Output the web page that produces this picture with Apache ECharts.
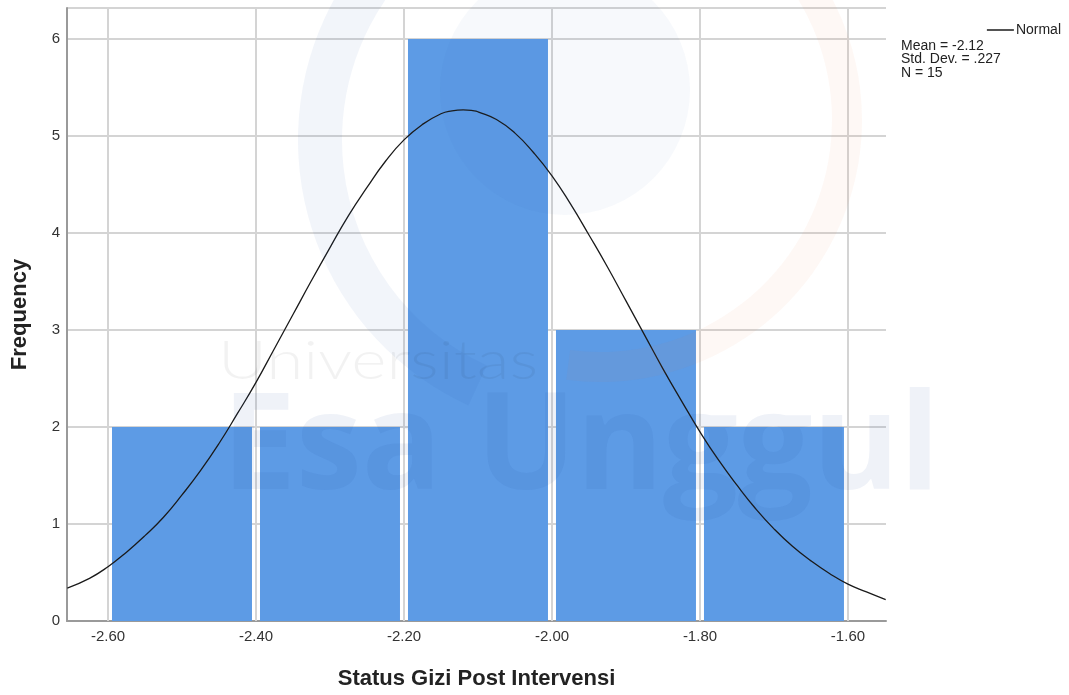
<!DOCTYPE html>
<html>
<head>
<meta charset="utf-8">
<script src="https://cdn.jsdelivr.net/npm/echarts@6/dist/echarts.min.js"></script>
<style>html,body{margin:0;padding:0;background:#fff;}#c{width:1069px;height:695px;}</style>
</head>
<body>
<div id="c"></div>
<script>
// ---- data ----
var binStarts = [-2.6, -2.4, -2.2, -2.0, -1.8];
var binEnds = [-2.4, -2.2, -2.0, -1.8, -1.6];
var counts = [2, 2, 6, 3, 2];
var xTicks = [-2.6, -2.4, -2.2, -2.0, -1.8, -1.6];
var yTicks = [0, 1, 2, 3, 4, 5, 6];
var curveX = [-2.655, -2.625, -2.60, -2.575, -2.55, -2.525, -2.50, -2.475, -2.45, -2.425, -2.40, -2.375, -2.35, -2.325, -2.30, -2.275, -2.25, -2.225, -2.20, -2.175, -2.15, -2.135, -2.12, -2.105, -2.10, -2.075, -2.05, -2.025, -2.00, -1.975, -1.95, -1.925, -1.90, -1.875, -1.85, -1.825, -1.80, -1.775, -1.75, -1.725, -1.70, -1.675, -1.65, -1.625, -1.60, -1.575, -1.549];
var curveY = [0.34, 0.44, 0.56, 0.71, 0.88, 1.07, 1.30, 1.55, 1.83, 2.14, 2.46, 2.81, 3.16, 3.51, 3.85, 4.18, 4.47, 4.74, 4.96, 5.12, 5.23, 5.26, 5.27, 5.26, 5.25, 5.17, 5.03, 4.83, 4.59, 4.30, 3.98, 3.65, 3.30, 2.95, 2.60, 2.27, 1.95, 1.66, 1.40, 1.16, 0.95, 0.77, 0.62, 0.49, 0.38, 0.30, 0.22];
var statsLines = ['Mean = -2.12', 'Std. Dev. = .227', 'N = 15'];
var xTitle = 'Status Gizi Post Intervensi';
var yTitle = 'Frequency';
var curveName = 'Normal';

var bars = binStarts.map(function (s, i) { return [s, binEnds[i], counts[i]]; });
var curve = curveX.map(function (x, i) { return [x, curveY[i]]; });

var chart = echarts.init(document.getElementById('c'));
var gridColor = '#d4d4d4';
var font = 'Liberation Sans, Arial, sans-serif';

chart.setOption({
  animation: false,
  backgroundColor: '#fff',
  grid: { left: 67, right: 183, top: 8, bottom: 74 },
  legend: {
    right: 3, top: 18,
    data: [{ name: curveName, icon: 'rect' }],
    itemWidth: 27, itemHeight: 1.5,
    textStyle: { fontFamily: font, fontSize: 14, color: '#222', padding: [0, 0, 0, -3] }
  },
  xAxis: {
    type: 'value', min: -2.6554, max: -1.5486,
    name: xTitle, nameLocation: 'middle', nameGap: 47,
    nameTextStyle: { fontFamily: font, fontSize: 22, fontWeight: 'bold', color: '#222' },
    axisLine: { show: true, lineStyle: { color: '#9a9a9a', width: 2 } },
    axisTick: { show: false },
    splitLine: { show: false },
    axisLabel: {
      customValues: xTicks, margin: 8,
      fontFamily: font, fontSize: 15, color: '#333',
      formatter: function (v) { return v.toFixed(2); }
    }
  },
  yAxis: {
    type: 'value', min: 0, max: 6.32, interval: 1,
    name: yTitle, nameLocation: 'middle', nameGap: 36, nameRotate: 90,
    nameTextStyle: { fontFamily: font, fontSize: 22, fontWeight: 'bold', color: '#222' },
    axisLine: { show: true, lineStyle: { color: '#9a9a9a', width: 2 } },
    axisTick: { show: false },
    splitLine: { show: true, lineStyle: { color: gridColor, width: 2 } },
    axisLabel: {
      customValues: yTicks, margin: 7,
      fontFamily: font, fontSize: 15, color: '#333'
    }
  },
  series: [
    {
      type: 'custom', name: 'bars', z: 2,
      encode: { x: [0, 1], y: 2 },
      data: bars,
      renderItem: function (params, api) {
        var p0 = api.coord([api.value(0), api.value(2)]);
        var p1 = api.coord([api.value(1), 0]);
        return {
          type: 'rect',
          shape: { x: p0[0] + 4, y: p0[1], width: p1[0] - p0[0] - 8, height: p1[1] - p0[1] },
          style: { fill: '#5d9be5' }
        };
      },
      markLine: {
        silent: true, symbol: 'none', z: 1,
        label: { show: false },
        lineStyle: { color: gridColor, width: 2, type: 'solid' },
        data: xTicks.map(function (t) { return { xAxis: t }; })
      }
    },
    {
      type: 'line', name: curveName, data: curve, smooth: true,
      showSymbol: false, z: 4,
      lineStyle: { color: '#1a1a1a', width: 1.3 },
      itemStyle: { color: '#1a1a1a' }
    }
  ],
  graphic: [
    {
      type: 'text', left: 901, top: 39, z: 10,
      style: { text: statsLines.join('\n'), fontFamily: font, fontSize: 14, lineHeight: 13.5, fill: '#222' }
    },
    // faint watermark
    { type: 'sector', silent: true, z: 20,
      shape: { cx: 590, cy: 140, r: 292, r0: 248, startAngle: 2.0, endAngle: 4.6, clockwise: true },
      style: { fill: 'rgba(40,90,170,0.06)' } },
    { type: 'sector', silent: true, z: 20,
      shape: { cx: 600, cy: 120, r: 262, r0: 232, startAngle: -1.3, endAngle: 1.7, clockwise: true },
      style: { fill: 'rgba(240,120,60,0.05)' } },
    { type: 'circle', silent: true, z: 20,
      shape: { cx: 565, cy: 90, r: 125 },
      style: { fill: 'rgba(40,90,170,0.04)' } },
    { type: 'text', silent: true, z: 20, x: 218, y: 335, scaleX: 1.25,
      style: { text: 'Universitas', fontFamily: 'Lato, sans-serif', fontWeight: 300, fontSize: 54, fill: 'rgba(0,0,0,0.05)' } },
    { type: 'text', silent: true, z: 20, x: 222, y: 383, scaleX: 0.98,
      style: { text: 'Esa Unggul', fontFamily: 'Open Sans, sans-serif', fontWeight: 'bold', fontSize: 135, fill: 'rgba(30,70,150,0.07)' } }
  ]
});
</script>
</body>
</html>
